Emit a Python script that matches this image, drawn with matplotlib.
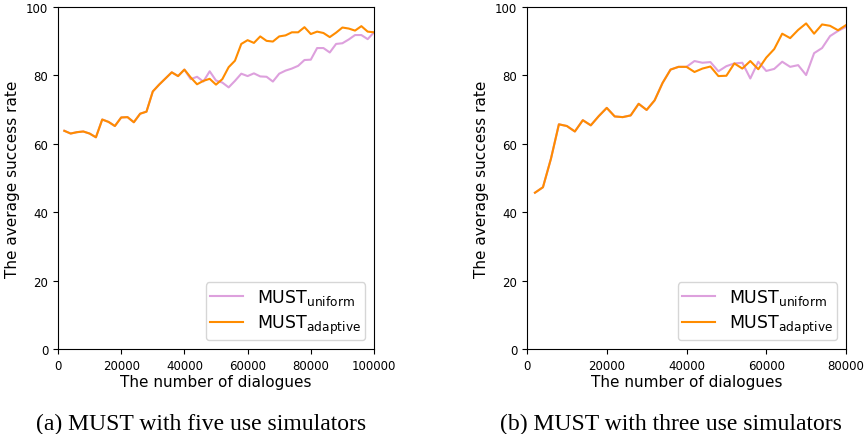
import matplotlib
matplotlib.use("Agg")
import matplotlib.pyplot as plt
import numpy as np

# Left panel: five user simulators
x_left = list(range(2000, 100001, 2000))
adaptive_left = [63.8, 63.0, 63.4, 63.6, 63.0, 61.9, 67.1, 66.4, 65.2, 67.7,
                 67.8, 66.3, 68.8, 69.4, 75.3, 77.3, 79.1, 80.9, 79.8, 81.7,
                 79.4, 77.4, 78.4, 79.0, 77.3, 78.9, 82.4, 84.3, 89.2, 90.3,
                 89.5, 91.4, 90.1, 89.9, 91.4, 91.7, 92.6, 92.6, 94.1, 92.1,
                 92.8, 92.4, 91.2, 92.5, 94.0, 93.7, 93.1, 94.4, 92.8, 92.6]
uniform_left = [63.8, 63.0, 63.4, 63.6, 63.0, 61.9, 67.1, 66.4, 65.2, 67.7,
                67.8, 66.3, 68.8, 69.4, 75.3, 77.3, 79.1, 80.9, 79.8, 81.7,
                78.9, 79.6, 78.2, 81.2, 78.5, 77.9, 76.5, 78.4, 80.5, 79.8,
                80.6, 79.7, 79.6, 78.2, 80.5, 81.4, 82.0, 82.8, 84.5, 84.6,
                88.0, 88.0, 86.7, 89.2, 89.4, 90.5, 91.8, 91.8, 90.6, 92.6]

# Right panel: three user simulators
x_right = list(range(2000, 80001, 2000))
adaptive_right = [45.7, 47.3, 55.6, 65.7, 65.2, 63.6, 66.9, 65.4, 68.1, 70.5,
                  68.0, 67.8, 68.3, 71.7, 69.9, 72.7, 77.8, 81.7, 82.5, 82.5,
                  81.0, 82.0, 82.6, 79.8, 79.9, 83.5, 82.0, 84.2, 81.8, 85.2,
                  87.7, 92.2, 90.9, 93.3, 95.2, 92.2, 94.9, 94.5, 93.2, 94.7]
uniform_right = [45.7, 47.3, 55.6, 65.7, 65.2, 63.6, 66.9, 65.4, 68.1, 70.5,
                 68.0, 67.8, 68.3, 71.7, 69.9, 72.7, 77.8, 81.7, 82.5, 82.5,
                 84.2, 83.7, 83.9, 81.2, 82.7, 83.5, 83.7, 79.1, 84.0, 81.3,
                 81.9, 84.0, 82.5, 83.0, 80.1, 86.5, 88.0, 91.5, 93.0, 94.2]

yticks = [0, 20, 40, 60, 80, 100]
xticks_left = [0, 20000, 40000, 60000, 80000, 100000]
xticks_right = [0, 20000, 40000, 60000, 80000]
labels = [r'MUST$_{\rm uniform}$', r'MUST$_{\rm adaptive}$']
captions = ['(a) MUST with five use simulators', '(b) MUST with three use simulators']

c_uni = '#DDA0DD'
c_ada = '#FF8C00'

fig = plt.figure(figsize=(8.65, 4.35), dpi=100)
ax1 = fig.add_axes([58/865, 85/435, 316/865, 342/435])
ax2 = fig.add_axes([527/865, 85/435, 319/865, 342/435])

panels = [(ax1, x_left, uniform_left, adaptive_left, xticks_left, 100000),
          (ax2, x_right, uniform_right, adaptive_right, xticks_right, 80000)]

for ax, xs, uni, ada, xt, xmax in panels:
    ax.plot(xs, uni, color=c_uni, lw=1.5, label=labels[0])
    ax.plot(xs, ada, color=c_ada, lw=1.5, label=labels[1])
    ax.set_xlim(0, xmax)
    ax.set_ylim(0, 100)
    ax.set_xticks(xt)
    ax.set_yticks(yticks)
    ax.tick_params(labelsize=8.5)
    ax.set_xlabel('The number of dialogues', fontsize=11, labelpad=2)
    ax.set_ylabel('The average success rate', fontsize=11)
    ax.legend(loc='lower right', fontsize=12.5, handlelength=1.9,
              borderpad=0.25, labelspacing=0.35)

fig.text(201/865, 1 - 430/435, captions[0], ha='center', va='baseline',
         family='Liberation Serif', fontsize=17)
fig.text(671/865, 1 - 430/435, captions[1], ha='center', va='baseline',
         family='Liberation Serif', fontsize=17)

fig.savefig('out.png', dpi=100)
